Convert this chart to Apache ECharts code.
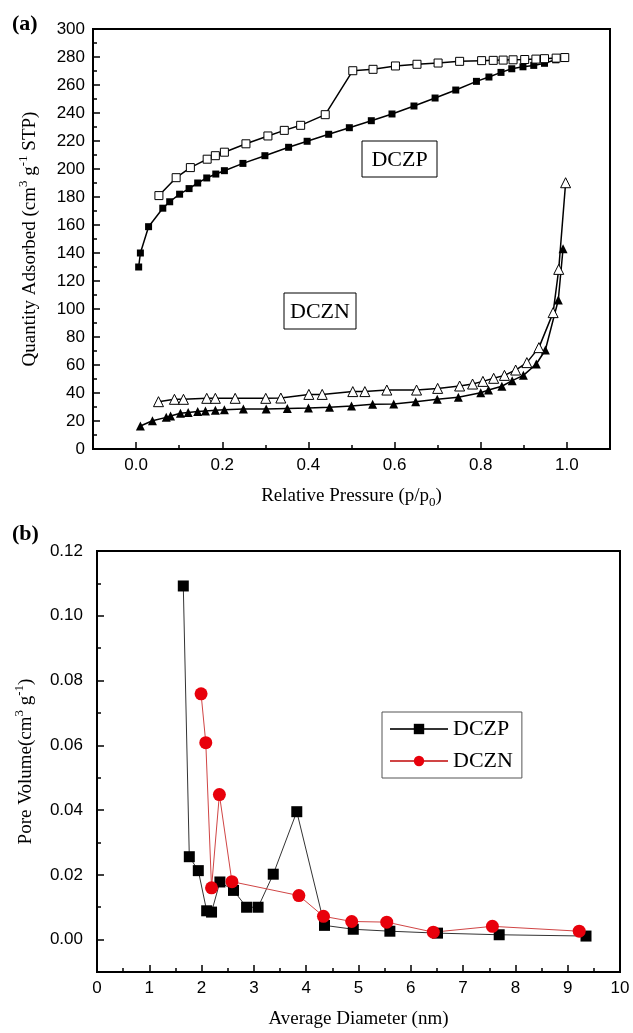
<!DOCTYPE html>
<html><head><meta charset="utf-8">
<script src="https://cdn.jsdelivr.net/npm/echarts@6/dist/echarts.min.js"></script>
<style>html,body{margin:0;padding:0;background:#fff}#c{width:633px;height:1033px}</style>
</head><body><div id="c"></div>
<script>
// ---- (a) N2 isotherms ----
const pAdsDCZP = [0.006,0.010,0.029,0.062,0.078,0.101,0.123,0.143,0.164,0.185,0.205,0.248,0.299,0.354,0.397,0.447,0.495,0.546,0.594,0.645,0.694,0.742,0.790,0.819,0.847,0.872,0.898,0.923,0.948,0.974,0.995];
const qAdsDCZP = [130,140,158.8,172,176.6,182,186,190,193.6,196.4,198.8,204,209.5,215.5,219.8,224.8,229.5,234.5,239.3,245,250.7,256.4,262.6,265.7,269,271.6,273,274,275.5,278,279];
const pDesDCZP = [0.053,0.093,0.126,0.165,0.184,0.205,0.255,0.306,0.344,0.382,0.439,0.503,0.550,0.602,0.652,0.701,0.751,0.802,0.829,0.852,0.875,0.902,0.928,0.948,0.975,0.995];
const qDesDCZP = [181,193.8,201,207,209.5,212,218,223.6,227.6,231.2,238.8,270.2,271.2,273.6,274.8,275.7,276.9,277.4,277.6,277.8,278,278.2,278.5,278.8,279.2,279.6];
const pAdsDCZN = [0.010,0.038,0.070,0.080,0.103,0.121,0.143,0.161,0.184,0.205,0.249,0.302,0.351,0.400,0.449,0.500,0.549,0.598,0.649,0.699,0.748,0.800,0.818,0.849,0.873,0.899,0.929,0.950,0.980,0.991];
const qAdsDCZN = [16.4,20.2,22.6,23.6,25.5,26,26.7,27.1,27.6,28.1,28.6,28.6,29,29.3,29.8,30.7,31.9,32.1,33.8,35.5,36.9,40.2,42.1,44.8,48.8,52.6,60.7,70.7,106.4,143];
const pDesDCZN = [0.052,0.089,0.110,0.164,0.184,0.230,0.301,0.336,0.401,0.432,0.503,0.531,0.582,0.651,0.700,0.751,0.781,0.805,0.830,0.855,0.881,0.907,0.935,0.968,0.981,0.997];
const qDesDCZN = [33.8,35.5,35.5,36.2,36.2,36.2,36.2,36.4,39,39,41,41,42.1,42.1,43.3,45,46.4,48.3,50.5,52.6,56.4,61.7,72.4,97.4,128.3,190.2];
const pressureTicks = [0, 0.2, 0.4, 0.6, 0.8, 1.0];
const pressureMinorTicks = [0.1, 0.3, 0.5, 0.7, 0.9];

// ---- (b) pore size distribution ----
const dDCZP = [1.65,1.765,1.937,2.097,2.19,2.35,2.61,2.86,3.08,3.37,3.82,4.35,4.9,5.6,6.51,7.69,9.35];
const vDCZP = [0.1092,0.0256,0.0213,0.0089,0.0085,0.0178,0.0152,0.0100,0.0100,0.0202,0.0395,0.0044,0.0032,0.0026,0.0020,0.0015,0.0011];
const dDCZN = [1.99,2.08,2.19,2.34,2.58,3.86,4.33,4.87,5.54,6.43,7.56,9.22];
const vDCZN = [0.0759,0.0608,0.016,0.0448,0.0179,0.0136,0.0072,0.0056,0.0054,0.0023,0.0041,0.0026];
const poreTicks = [0, 0.02, 0.04, 0.06, 0.08, 0.10, 0.12];
const poreMinorTicks = [0.01, 0.03, 0.05, 0.07, 0.09, 0.11];

const zip = (a, b) => a.map((x, i) => [x, b[i]]);
const SERIF = 'Liberation Serif', SANS = 'Liberation Sans';
const K = '#000';
const tickLine = {color: K, width: 1.5};
const axisLineStyle = {onZero: false, lineStyle: {color: K, width: 2}};
const labelStyle = {color: K, fontFamily: SANS, fontSize: 17};
const nameStyle = {color: K, fontFamily: SERIF, fontSize: 19, lineHeight: 26,
  rich: {sup: {fontFamily: SERIF, fontSize: 13, lineHeight: 14, verticalAlign: 'top', color: K},
         sub: {fontFamily: SERIF, fontSize: 13, lineHeight: 14, verticalAlign: 'bottom', color: K}}};

const chart = echarts.init(document.getElementById('c'), null, {renderer: 'canvas'});
chart.setOption({
  animation: false,
  backgroundColor: '#fff',
  grid: [
    {left: 93, top: 29, width: 517, height: 420, show: true, borderColor: K, borderWidth: 2, backgroundColor: 'transparent'},
    {left: 97, top: 551, width: 523, height: 424, show: true, borderColor: K, borderWidth: 2, backgroundColor: 'transparent'}
  ],
  xAxis: [
    {gridIndex: 0, type: 'value', min: -0.1, max: 1.1, position: 'bottom',
     axisLine: axisLineStyle,
     axisTick: {inside: true, length: 7, customValues: pressureTicks, lineStyle: tickLine},
     axisLabel: {customValues: pressureTicks, formatter: v => v.toFixed(1), margin: 8, ...labelStyle},
     splitLine: {show: false},
     name: 'Relative Pressure (p/p{sub|0})', nameLocation: 'middle', nameGap: 34, nameTextStyle: nameStyle},
    {gridIndex: 0, type: 'value', min: -0.1, max: 1.1, position: 'bottom',
     axisLine: {show: false, onZero: false},
     axisTick: {show: true, inside: true, length: 4, customValues: pressureMinorTicks, lineStyle: tickLine},
     axisLabel: {show: false}, splitLine: {show: false}},
    {gridIndex: 1, type: 'value', min: 0, max: 10, interval: 1, position: 'bottom',
     axisLine: axisLineStyle,
     axisTick: {inside: true, length: 7, lineStyle: tickLine},
     minorTick: {show: true, splitNumber: 2, length: 4, lineStyle: tickLine},
     axisLabel: {margin: 8, ...labelStyle},
     splitLine: {show: false},
     name: 'Average Diameter (nm)', nameLocation: 'middle', nameGap: 34, nameTextStyle: nameStyle}
  ],
  yAxis: [
    {gridIndex: 0, type: 'value', min: 0, max: 300, interval: 20, position: 'left',
     axisLine: axisLineStyle,
     axisTick: {inside: true, length: 7, lineStyle: tickLine},
     minorTick: {show: true, splitNumber: 2, length: 4, lineStyle: tickLine},
     axisLabel: {margin: 8, ...labelStyle},
     splitLine: {show: false},
     name: 'Quantity Adsorbed (cm{sup|3} g{sup|-1} STP)', nameLocation: 'middle', nameGap: 50, nameTextStyle: nameStyle},
    {gridIndex: 1, type: 'value', min: -0.01, max: 0.12, position: 'left',
     axisLine: axisLineStyle,
     axisTick: {inside: true, length: 7, customValues: poreTicks, lineStyle: tickLine},
     axisLabel: {customValues: poreTicks, formatter: v => v.toFixed(2), margin: 14, ...labelStyle},
     splitLine: {show: false},
     name: 'Pore Volume(cm{sup|3} g{sup|-1})', nameLocation: 'middle', nameGap: 58, nameTextStyle: nameStyle},
    {gridIndex: 1, type: 'value', min: -0.01, max: 0.12, position: 'left',
     axisLine: {show: false, onZero: false},
     axisTick: {show: true, inside: true, length: 4, customValues: poreMinorTicks, lineStyle: tickLine},
     axisLabel: {show: false}, splitLine: {show: false}}
  ],
  legend: {
    data: ['DCZP', 'DCZN'], orient: 'vertical', left: 382, top: 712,
    padding: [6, 9, 6, 7], itemWidth: 58, itemHeight: 13, itemGap: 10,
    borderColor: '#555', borderWidth: 1, backgroundColor: '#fff',
    textStyle: {fontFamily: SERIF, fontSize: 22, lineHeight: 22, color: K}
  },
  series: [
    {name: 'DCZP adsorption', type: 'line', xAxisIndex: 0, yAxisIndex: 0, data: zip(pAdsDCZP, qAdsDCZP),
     symbol: 'rect', symbolSize: 7, itemStyle: {color: K}, lineStyle: {color: K, width: 1.5}},
    {name: 'DCZP desorption', type: 'line', xAxisIndex: 0, yAxisIndex: 0, data: zip(pDesDCZP, qDesDCZP),
     symbol: 'rect', symbolSize: 8, itemStyle: {color: '#fff', borderColor: K, borderWidth: 1}, lineStyle: {color: K, width: 1.5}},
    {name: 'DCZN adsorption', type: 'line', xAxisIndex: 0, yAxisIndex: 0, data: zip(pAdsDCZN, qAdsDCZN),
     symbol: 'triangle', symbolSize: 9, itemStyle: {color: K}, lineStyle: {color: K, width: 1.5}},
    {name: 'DCZN desorption', type: 'line', xAxisIndex: 0, yAxisIndex: 0, data: zip(pDesDCZN, qDesDCZN),
     symbol: 'triangle', symbolSize: 10, itemStyle: {color: '#fff', borderColor: K, borderWidth: 1}, lineStyle: {color: K, width: 1.5}},
    {name: 'DCZP', type: 'line', xAxisIndex: 2, yAxisIndex: 1, data: zip(dDCZP, vDCZP),
     symbol: 'rect', symbolSize: 11, itemStyle: {color: K}, lineStyle: {color: '#333', width: 1}},
    {name: 'DCZN', type: 'line', xAxisIndex: 2, yAxisIndex: 1, data: zip(dDCZN, vDCZN),
     symbol: 'circle', symbolSize: 13, itemStyle: {color: '#e8000b'}, lineStyle: {color: '#d04545', width: 1}}
  ],
  graphic: [
    {type: 'text', left: 12, top: 13, style: {text: '(a)', font: 'bold 22px "Liberation Serif"', fill: K}},
    {type: 'text', left: 12, top: 523, style: {text: '(b)', font: 'bold 22px "Liberation Serif"', fill: K}},
    {type: 'rect', shape: {x: 362, y: 141, width: 75, height: 36}, style: {fill: '#fff', stroke: K, lineWidth: 1}},
    {type: 'text', x: 399.5, y: 160, style: {text: 'DCZP', font: '22px "Liberation Serif"', align: 'center', verticalAlign: 'middle', fill: K}},
    {type: 'rect', shape: {x: 284, y: 293, width: 72, height: 36}, style: {fill: '#fff', stroke: K, lineWidth: 1}},
    {type: 'text', x: 320, y: 312, style: {text: 'DCZN', font: '22px "Liberation Serif"', align: 'center', verticalAlign: 'middle', fill: K}}
  ]
});
</script>
</body></html>
